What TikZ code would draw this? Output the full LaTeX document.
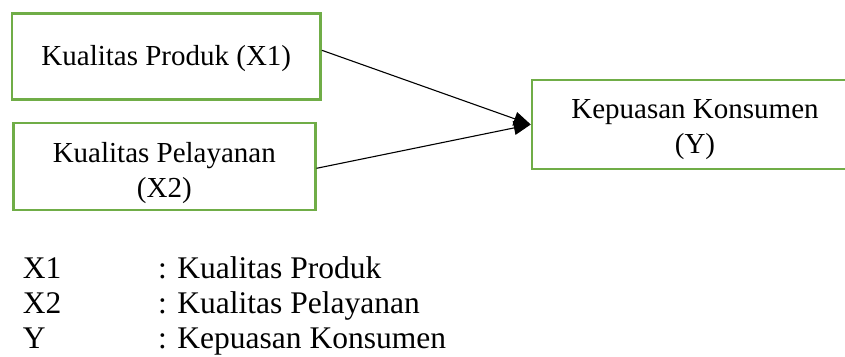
\documentclass[tikz,border=0pt]{standalone}
\usepackage{fontspec}
\setmainfont{Liberation Serif}
\usetikzlibrary{arrows.meta,calc}
\definecolor{boxgreen}{HTML}{70AD47}
\tikzset{
  varbox/.style={draw=boxgreen, line width=2.5pt, fill=white, inner sep=0pt},
  boxtext/.style={inner sep=0pt, align=center, font=\fontsize{29}{35}\selectfont},
  conn/.style={draw=black, line width=1.1pt, -{Triangle[length=17pt,width=14pt]}},
  legend/.style={anchor=base west, inner sep=0pt, font=\fontsize{31.5}{35}\selectfont}
}
\begin{document}
\begin{tikzpicture}[x=1pt,y=-1pt]
\clip (0,0) rectangle (845,356);
\fill[white] (0,0) rectangle (845,356);
\node[varbox, minimum width=308.7pt, minimum height=86pt] (b1) at (166.3,56.3) {};
\node[varbox, minimum width=302pt, minimum height=87pt] (b2) at (164.3,166.3) {};
\node[varbox, minimum width=326pt, minimum height=89pt] (b3) at (695,124.5) {};
\node[boxtext] (t1) at ($(b1.center)+(0,2)$) {Kualitas Produk (X1)};
\node[boxtext] (t2) at ($(b2.center)+(0,7)$) {Kualitas Pelayanan\\(X2)};
\node[boxtext] (t3) at ($(b3.center)+(0,5)$) {Kepuasan Konsumen\\(Y)};
\draw[conn] ($(b1.east)+(0,-6)$) -- (b3.west);
\draw[conn] ($(b2.east)+(0,2)$) -- (b3.west);
\node[legend] (l1) at (22.7,278) {X1};
\node[legend] (l2) at (22.7,313) {X2};
\node[legend] (l3) at (22.7,348) {Y};
\node[legend] (d1) at (158,278) {: Kualitas Produk};
\node[legend] (d2) at (158,313) {: Kualitas Pelayanan};
\node[legend] (d3) at (158,348) {: Kepuasan Konsumen};
\end{tikzpicture}
\end{document}
